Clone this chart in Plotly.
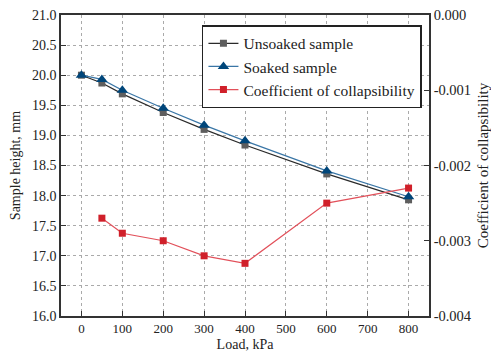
import plotly.graph_objects as go

loads = [0, 50, 100, 200, 300, 400, 600, 800]
unsoaked = [20.0, 19.87, 19.69, 19.38, 19.10, 18.84, 18.36, 17.93]
soaked = [20.0, 19.93, 19.75, 19.45, 19.17, 18.91, 18.41, 17.98]
coef_loads = [50, 100, 200, 300, 400, 600, 800]
coef = [-0.0027, -0.0029, -0.0030, -0.0032, -0.0033, -0.0025, -0.0023]
coef_ticks = [0.0, -0.001, -0.002, -0.003, -0.004]
coef_tick_labels = ["0.000", "-0.001", "-0.002", "-0.003", "-0.004"]

font = "Liberation Serif, Times New Roman, serif"
fig = go.Figure()
fig.add_trace(go.Scatter(x=loads, y=unsoaked, name="Unsoaked sample", mode="lines+markers",
                         line=dict(color="#2a2a2a", width=1.2),
                         marker=dict(symbol="square", size=7, color="#5e5e5e")))
fig.add_trace(go.Scatter(x=loads, y=soaked, name="Soaked sample", mode="lines+markers",
                         line=dict(color="#3a76a6", width=1.2),
                         marker=dict(symbol="triangle-up", size=10, color="#00467a")))
fig.add_trace(go.Scatter(x=coef_loads, y=coef, name="Coefficient of collapsibility", mode="lines+markers",
                         yaxis="y2",
                         line=dict(color="#e2505a", width=1.2),
                         marker=dict(symbol="square", size=7, color="#d0202a")))

def tf(s):
    return dict(family=font, size=s, color="#222222")

common = dict(showline=True, linecolor="#333333", linewidth=1.5, automargin=False,
              ticks="inside", ticklen=5, tickcolor="#333333", tickwidth=1, zeroline=False)
fig.update_layout(
    width=491, height=354,
    margin=dict(l=61, r=62, t=15, b=38),
    plot_bgcolor="white", paper_bgcolor="white",
    font=dict(family=font, size=13, color="#222222"),
    showlegend=True,
    legend=dict(x=0.383, y=0.966, xanchor="left", yanchor="top",
                bordercolor="#222222", borderwidth=1.5, bgcolor="white",
                font=tf(15.5), tracegroupgap=0, itemwidth=30),
    xaxis=dict(range=[-50, 850], tickvals=[0, 100, 200, 300, 400, 500, 600, 700, 800],
               tickfont=tf(13),
               title=dict(text="Load, kPa", standoff=4, font=tf(14)),
               mirror=True,
               showgrid=True, gridcolor="#aaaaaa", griddash="dot", gridwidth=1, **common),
    yaxis=dict(range=[16, 21], dtick=0.5, tickformat=".1f", tickfont=tf(14),
               title=dict(text="Sample height, mm", standoff=8, font=tf(14)),
               showgrid=True, gridcolor="#aaaaaa", griddash="dot", gridwidth=1, **common),
    yaxis2=dict(range=[-0.004, 0], tickvals=coef_ticks, ticktext=coef_tick_labels,
                tickfont=tf(14.5), overlaying="y", side="right",
                title=dict(text="Coefficient of collapsibility", standoff=10, font=tf(15)),
                showgrid=False, **common),
)
fig.write_html("out.html")
